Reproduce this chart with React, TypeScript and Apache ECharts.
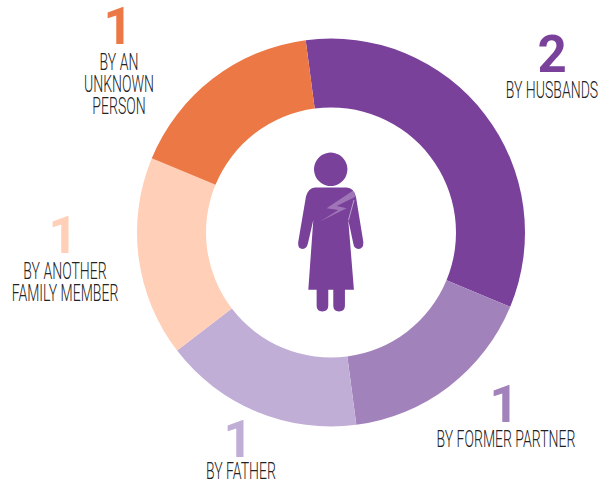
import React, { useEffect, useRef } from "react";
import * as echarts from "echarts";

const categories = ["BY HUSBANDS", "BY FORMER PARTNER", "BY FATHER", "BY ANOTHER\nFAMILY MEMBER", "BY AN\nUNKNOWN\nPERSON"];
const values = [2, 1, 1, 1, 1];
const colors = ["#7A419B", "#A282BA", "#C1AED7", "#FFCFB8", "#EC7845"];
const numberPos = [[552, 54], [504, 404], [238, 439], [63, 235], [118, 26.5]];
const labelPos = [[552, 90, 22], [506, 439, 22], [241, 471.5, 18], [65, 282, 22], [119, 84, 22]];

const BODY =
  "M105 143 L200 143 Q222 145 228 170 L250 305 Q252 327 236 327 Q222 327 220 310 L205 240 L222 450 L195 450 L195 498 Q195 515 177 515 Q160 515 160 498 L160 450 L145 450 L145 498 Q145 515 127 515 Q110 515 110 498 L110 450 L85 450 L100 240 L84 310 Q80 327 68 327 Q52 327 55 305 L78 170 Q85 145 105 143 Z";
const BOLT = "M220 152 L140 205 L175 210 L120 245 L200 205 L170 198 L228 170 Z";
echarts.graphic.registerShape("womanBody", echarts.graphic.extendPath(BODY, {}));
echarts.graphic.registerShape("womanBolt", echarts.graphic.extendPath(BOLT, {}));

export default function App() {
  const ref = useRef<HTMLDivElement>(null);
  useEffect(() => {
    const chart = echarts.init(ref.current!, null, { renderer: "svg" });
    const texts: any[] = [];
    categories.forEach((c, i) => {
      texts.push({
        type: "text",
        x: numberPos[i][0],
        y: numberPos[i][1],
        scaleX: 0.98,
        style: {
          text: String(values[i]),
          fontFamily: "Roboto",
          fontWeight: 700,
          fontSize: 52,
          lineHeight: 40,
          fill: colors[i],
          align: "center",
          verticalAlign: "middle",
        },
      });
      texts.push({
        type: "text",
        x: labelPos[i][0],
        y: labelPos[i][1],
        scaleX: 0.61,
        style: {
          text: c,
          fontFamily: "Roboto",
          fontWeight: 300,
          fontSize: 23,
          lineHeight: labelPos[i][2],
          fill: "#222222",
          align: "center",
          verticalAlign: "middle",
        },
      });
    });
    chart.setOption({
      animation: false,
      series: [
        {
          type: "pie",
          center: [331, 232.5],
          radius: [125, 194],
          startAngle: 97.5,
          clockwise: true,
          silent: true,
          label: { show: false },
          labelLine: { show: false },
          data: values.map((v, i) => ({
            value: v,
            name: categories[i],
            itemStyle: { color: colors[i] },
          })),
        },
      ],
      graphic: [
        ...texts,
        { type: "circle", shape: { cx: 330.7, cy: 169.3, r: 16.7 }, style: { fill: "#7A419B" } },
        { type: "womanBody", x: 280, y: 140, scaleX: 1 / 3, scaleY: 1 / 3, style: { fill: "#7A419B" } },
        { type: "womanBolt", x: 280, y: 140, scaleX: 1 / 3, scaleY: 1 / 3, style: { fill: "rgba(255,255,255,0.28)" } },
        { type: "line", shape: { x1: 354, y1: 200, x2: 348.5, y2: 220 }, style: { stroke: "rgba(255,255,255,0.5)", lineWidth: 1 } },
      ],
    });
    return () => chart.dispose();
  }, []);
  return <div ref={ref} style={{ position: "absolute", left: 0, top: 0, width: 607, height: 483 }} />;
}
